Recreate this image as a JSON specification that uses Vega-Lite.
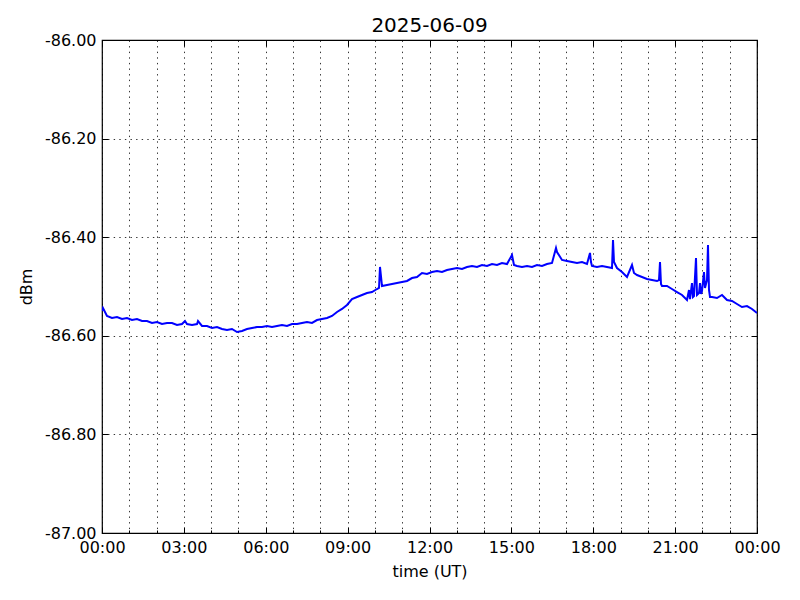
{
  "$schema": "https://vega.github.io/schema/vega-lite/v6.json",
  "width": 655,
  "height": 493,
  "autosize": {"type": "none"},
  "padding": {"left": 102, "top": 40, "right": 43, "bottom": 67},
  "background": "white",
  "title": {"text": "2025-06-09", "font": "DejaVu Sans", "fontSize": 20, "fontWeight": "normal", "color": "#000", "offset": -4},
  "config": {
    "view": {"stroke": "#000", "strokeWidth": 1.2},
    "axis": {"labelFont": "DejaVu Sans", "titleFont": "DejaVu Sans", "labelFontSize": 16, "titleFontSize": 16, "titleFontWeight": "normal", "labelColor": "#000", "titleColor": "#000", "tickColor": "#000", "domain": false, "labelFlush": false, "gridColor": "#000", "gridDash": [1.4, 4.2], "gridWidth": 0.8, "gridOpacity": 1}
  },
  "data": {"values": [
    {"h":0,"v":-86.5497},{"h":0.037,"v":-86.5436},{"h":0.183,"v":-86.5598},{"h":0.366,"v":-86.5639},{"h":0.55,"v":-86.5619},{"h":0.733,"v":-86.5659},{"h":0.916,"v":-86.5639},{"h":1.099,"v":-86.568},{"h":1.282,"v":-86.5659},{"h":1.466,"v":-86.57},{"h":1.649,"v":-86.57},{"h":1.832,"v":-86.574},{"h":2.015,"v":-86.572},{"h":2.198,"v":-86.5761},{"h":2.382,"v":-86.574},{"h":2.565,"v":-86.574},{"h":2.748,"v":-86.5781},{"h":2.931,"v":-86.5761},{"h":3.041,"v":-86.57},{"h":3.115,"v":-86.5761},{"h":3.298,"v":-86.5781},{"h":3.481,"v":-86.5761},{"h":3.518,"v":-86.57},{"h":3.664,"v":-86.5801},{"h":3.847,"v":-86.5801},{"h":4.031,"v":-86.5842},{"h":4.214,"v":-86.5822},{"h":4.397,"v":-86.5862},{"h":4.58,"v":-86.5882},{"h":4.763,"v":-86.5862},{"h":4.947,"v":-86.5923},{"h":5.13,"v":-86.5903},{"h":5.313,"v":-86.5862},{"h":5.496,"v":-86.5842},{"h":5.679,"v":-86.5822},{"h":5.863,"v":-86.5822},{"h":6.046,"v":-86.5801},{"h":6.229,"v":-86.5822},{"h":6.412,"v":-86.5801},{"h":6.595,"v":-86.5781},{"h":6.779,"v":-86.5801},{"h":6.962,"v":-86.5761},{"h":7.145,"v":-86.5761},{"h":7.328,"v":-86.574},{"h":7.511,"v":-86.572},{"h":7.695,"v":-86.574},{"h":7.878,"v":-86.568},{"h":8.061,"v":-86.5659},{"h":8.244,"v":-86.5639},{"h":8.427,"v":-86.5598},{"h":8.611,"v":-86.5517},{"h":8.794,"v":-86.5456},{"h":8.977,"v":-86.5375},{"h":9.16,"v":-86.5254},{"h":9.344,"v":-86.5213},{"h":9.527,"v":-86.5172},{"h":9.71,"v":-86.5132},{"h":9.893,"v":-86.5112},{"h":10.076,"v":-86.5051},{"h":10.15,"v":-86.503},{"h":10.186,"v":-86.4604},{"h":10.26,"v":-86.499},{"h":10.443,"v":-86.497},{"h":10.626,"v":-86.4949},{"h":10.809,"v":-86.4929},{"h":10.992,"v":-86.4909},{"h":11.176,"v":-86.4888},{"h":11.359,"v":-86.4828},{"h":11.542,"v":-86.4807},{"h":11.725,"v":-86.4726},{"h":11.908,"v":-86.4746},{"h":12.092,"v":-86.4706},{"h":12.275,"v":-86.4685},{"h":12.458,"v":-86.4706},{"h":12.641,"v":-86.4665},{"h":12.824,"v":-86.4645},{"h":13.008,"v":-86.4625},{"h":13.191,"v":-86.4645},{"h":13.374,"v":-86.4604},{"h":13.557,"v":-86.4584},{"h":13.74,"v":-86.4604},{"h":13.924,"v":-86.4564},{"h":14.107,"v":-86.4584},{"h":14.29,"v":-86.4544},{"h":14.473,"v":-86.4564},{"h":14.656,"v":-86.4523},{"h":14.84,"v":-86.4544},{"h":15.023,"v":-86.4361},{"h":15.096,"v":-86.4564},{"h":15.206,"v":-86.4584},{"h":15.389,"v":-86.4604},{"h":15.573,"v":-86.4584},{"h":15.756,"v":-86.4604},{"h":15.939,"v":-86.4564},{"h":16.122,"v":-86.4584},{"h":16.305,"v":-86.4544},{"h":16.489,"v":-86.4523},{"h":16.635,"v":-86.4219},{"h":16.672,"v":-86.43},{"h":16.855,"v":-86.4462},{"h":17.038,"v":-86.4483},{"h":17.221,"v":-86.4503},{"h":17.405,"v":-86.4523},{"h":17.588,"v":-86.4503},{"h":17.771,"v":-86.4544},{"h":17.881,"v":-86.432},{"h":17.917,"v":-86.4503},{"h":17.954,"v":-86.4584},{"h":18.137,"v":-86.4604},{"h":18.321,"v":-86.4584},{"h":18.504,"v":-86.4604},{"h":18.687,"v":-86.4625},{"h":18.724,"v":-86.4057},{"h":18.76,"v":-86.4503},{"h":18.87,"v":-86.4625},{"h":19.053,"v":-86.4706},{"h":19.237,"v":-86.4807},{"h":19.42,"v":-86.4564},{"h":19.493,"v":-86.4726},{"h":19.603,"v":-86.4767},{"h":19.786,"v":-86.4807},{"h":19.969,"v":-86.4848},{"h":20.153,"v":-86.4868},{"h":20.336,"v":-86.4888},{"h":20.409,"v":-86.4868},{"h":20.446,"v":-86.4503},{"h":20.482,"v":-86.4949},{"h":20.519,"v":-86.499},{"h":20.702,"v":-86.499},{"h":20.885,"v":-86.5051},{"h":21.069,"v":-86.5112},{"h":21.252,"v":-86.5172},{"h":21.435,"v":-86.5274},{"h":21.508,"v":-86.5071},{"h":21.545,"v":-86.5254},{"h":21.618,"v":-86.4929},{"h":21.655,"v":-86.5213},{"h":21.691,"v":-86.5193},{"h":21.765,"v":-86.4422},{"h":21.802,"v":-86.5172},{"h":21.875,"v":-86.5132},{"h":21.911,"v":-86.4929},{"h":21.948,"v":-86.5152},{"h":21.985,"v":-86.5091},{"h":22.058,"v":-86.4706},{"h":22.094,"v":-86.503},{"h":22.131,"v":-86.4949},{"h":22.168,"v":-86.4868},{"h":22.204,"v":-86.4158},{"h":22.241,"v":-86.5071},{"h":22.278,"v":-86.5213},{"h":22.351,"v":-86.5213},{"h":22.534,"v":-86.5233},{"h":22.718,"v":-86.5172},{"h":22.901,"v":-86.5274},{"h":23.084,"v":-86.5294},{"h":23.267,"v":-86.5355},{"h":23.45,"v":-86.5416},{"h":23.634,"v":-86.5396},{"h":23.817,"v":-86.5456},{"h":24,"v":-86.5538}
  ]},
  "layer": [
    {
      "mark": {"type": "line", "color": "#0000ff", "strokeWidth": 2, "clip": true},
      "encoding": {
        "x": {"field": "h", "type": "quantitative", "scale": {"domain": [0, 24], "nice": false, "zero": false},
          "axis": {"orient": "bottom", "values": [0,1,2,3,4,5,6,7,8,9,10,11,12,13,14,15,16,17,18,19,20,21,22,23,24], "grid": true, "tickSize": -3, "labels": false, "title": null}},
        "y": {"field": "v", "type": "quantitative", "scale": {"domain": [-87, -86], "nice": false, "zero": false},
          "axis": {"orient": "left", "values": [-87, -86.8, -86.6, -86.4, -86.2, -86], "grid": true, "tickSize": -6, "labelPadding": 12, "labelExpr": "replace(format(datum.value, '.2f'), '\u2212', '-')", "title": "dBm", "titlePadding": 10}}
      }
    },
    {
      "mark": {"type": "line", "strokeOpacity": 0},
      "encoding": {
        "x": {"field": "h", "type": "quantitative",
          "axis": {"orient": "bottom", "values": [0,3,6,9,12,15,18,21,24], "grid": false, "tickSize": -6, "labelPadding": 12, "labelExpr": "(datum.value % 24 < 10 ? '0' : '') + (datum.value % 24) + ':00'", "title": "time (UT)", "titlePadding": 8}},
        "y": {"field": "v", "type": "quantitative",
          "axis": {"orient": "right", "values": [-87, -86.8, -86.6, -86.4, -86.2, -86], "grid": false, "tickSize": -6, "labels": false, "title": null}}
      }
    },
    {
      "mark": {"type": "line", "strokeOpacity": 0},
      "encoding": {
        "x": {"field": "h", "type": "quantitative",
          "axis": {"orient": "top", "values": [0,3,6,9,12,15,18,21,24], "grid": false, "tickSize": -6, "labels": false, "title": null}},
        "y": {"field": "v", "type": "quantitative", "axis": null}
      }
    }
  ],
  "resolve": {"axis": {"x": "independent", "y": "independent"}}
}
